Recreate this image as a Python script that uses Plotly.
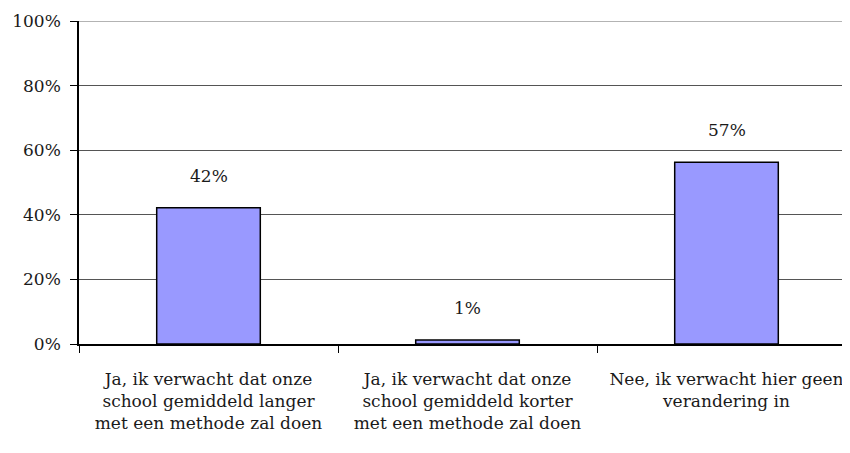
import plotly.graph_objects as go

categories = [
    "Ja, ik verwacht dat onze<br>school gemiddeld langer<br>met een methode zal doen",
    "Ja, ik verwacht dat onze<br>school gemiddeld korter<br>met een methode zal doen",
    "Nee, ik verwacht hier geen<br>verandering in",
]
values = [42.2, 1.2, 56.3]
value_labels = ["42%", "1%", "57%"]
y_ticks = [0, 20, 40, 60, 80, 100]
y_tick_labels = [f"{v}%" for v in y_ticks]

FONT = "DejaVu Serif"
# page body has an 8px margin; compensate so the plot lands where the reference has it
W, H = 842, 445
L, T = 71, 13
plot_h = 323
B = H - T - plot_h
cat_px = 259.0
plot_w = W - L

fig = go.Figure()
fig.add_trace(go.Bar(
    x=categories, y=values, width=0.4,
    marker=dict(color="#9999FF", line=dict(color="black", width=1.5)),
    hoverinfo="skip",
))

for c, v, lab in zip(categories, values, value_labels):
    fig.add_annotation(x=c, y=v, text=lab, showarrow=False,
                       yanchor="bottom", yshift=20,
                       font=dict(family=FONT, size=17, color="#1a1a1a"))

fig.add_shape(type="line", xref="paper", yref="y", x0=0, x1=1, y0=100, y1=100,
              line=dict(color="#9a9a9a", width=1.5), layer="above")

fig.update_layout(
    width=W, height=H,
    margin=dict(l=L, r=0, t=T, b=B, pad=0),
    paper_bgcolor="white", plot_bgcolor="white",
    showlegend=False,
    font=dict(family=FONT, size=17, color="#1a1a1a"),
    xaxis=dict(
        type="category",
        range=[-0.5, -0.5 + plot_w / cat_px],
        tickson="boundaries", ticks="outside", ticklen=7, tickcolor="black",
        tickwidth=1,
        showline=True, linecolor="black", linewidth=1.5,
        showgrid=False, zeroline=False,
        ticklabelstandoff=19,
        ticklabeloverflow="allow",
        tickfont=dict(family=FONT, size=17, color="#1a1a1a"),
        tickangle=0,
    ),
    yaxis=dict(
        range=[0, 100],
        tickmode="array", tickvals=y_ticks, ticktext=y_tick_labels,
        ticks="outside", ticklen=7, tickcolor="black", tickwidth=1,
        showline=True, linecolor="black", linewidth=1.5,
        showgrid=True, gridcolor="#555", gridwidth=1,
        zeroline=False,
        ticklabelstandoff=6,
        tickfont=dict(family=FONT, size=17, color="#1a1a1a"),
    ),
)

fig.write_html("out.html")
